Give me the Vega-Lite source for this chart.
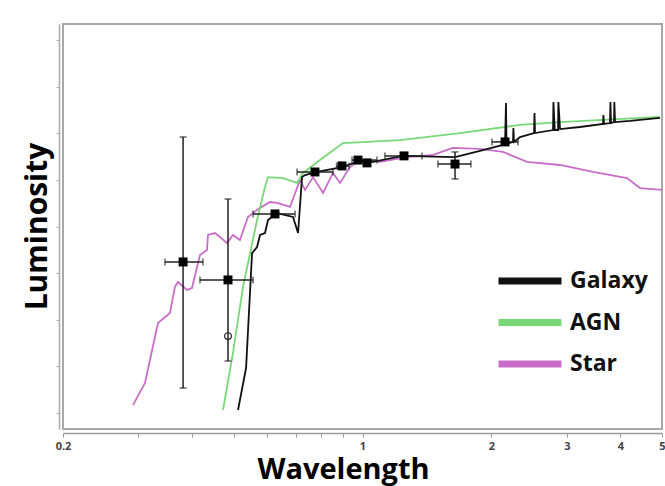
{
  "$schema": "https://vega.github.io/schema/vega-lite/v6.json",
  "autosize": {"type": "none"},
  "width": 599,
  "height": 405,
  "padding": {"left": 63, "top": 24, "right": 3, "bottom": 57},
  "background": "#ffffff",
  "config": {
    "view": {"stroke": "#a8a8a8", "strokeWidth": 2},
    "font": "Open Sans"
  },
  "datasets": {
    "lines": [
      {"s": "Star", "i": 0, "x": 0.2913, "L": 0.34},
      {"s": "Star", "i": 1, "x": 0.3107, "L": 1.29},
      {"s": "Star", "i": 2, "x": 0.3332, "L": 3.86},
      {"s": "Star", "i": 3, "x": 0.3553, "L": 4.29},
      {"s": "Star", "i": 4, "x": 0.365, "L": 5.41},
      {"s": "Star", "i": 5, "x": 0.371, "L": 5.62},
      {"s": "Star", "i": 6, "x": 0.3894, "L": 5.28},
      {"s": "Star", "i": 7, "x": 0.4, "L": 5.36},
      {"s": "Star", "i": 8, "x": 0.4175, "L": 6.78},
      {"s": "Star", "i": 9, "x": 0.4336, "L": 6.99},
      {"s": "Star", "i": 10, "x": 0.4359, "L": 7.64},
      {"s": "Star", "i": 11, "x": 0.4526, "L": 7.72},
      {"s": "Star", "i": 12, "x": 0.4649, "L": 7.55},
      {"s": "Star", "i": 13, "x": 0.4829, "L": 7.29},
      {"s": "Star", "i": 14, "x": 0.4985, "L": 7.64},
      {"s": "Star", "i": 15, "x": 0.5176, "L": 7.42},
      {"s": "Star", "i": 16, "x": 0.5403, "L": 8.41},
      {"s": "Star", "i": 17, "x": 0.5766, "L": 8.8},
      {"s": "Star", "i": 18, "x": 0.6083, "L": 9.05},
      {"s": "Star", "i": 19, "x": 0.6316, "L": 9.01},
      {"s": "Star", "i": 20, "x": 0.6774, "L": 8.84},
      {"s": "Star", "i": 21, "x": 0.7147, "L": 10.0},
      {"s": "Star", "i": 22, "x": 0.7344, "L": 9.57},
      {"s": "Star", "i": 23, "x": 0.7666, "L": 10.12},
      {"s": "Star", "i": 24, "x": 0.8089, "L": 9.44},
      {"s": "Star", "i": 25, "x": 0.8534, "L": 10.3},
      {"s": "Star", "i": 26, "x": 0.8862, "L": 9.87},
      {"s": "Star", "i": 27, "x": 0.9351, "L": 10.55},
      {"s": "Star", "i": 28, "x": 0.9867, "L": 10.85},
      {"s": "Star", "i": 29, "x": 1.099, "L": 10.77},
      {"s": "Star", "i": 30, "x": 1.27, "L": 10.98},
      {"s": "Star", "i": 31, "x": 1.461, "L": 11.07},
      {"s": "Star", "i": 32, "x": 1.626, "L": 11.37},
      {"s": "Star", "i": 33, "x": 1.88, "L": 11.33},
      {"s": "Star", "i": 34, "x": 2.128, "L": 11.2},
      {"s": "Star", "i": 35, "x": 2.421, "L": 10.77},
      {"s": "Star", "i": 36, "x": 2.891, "L": 10.64},
      {"s": "Star", "i": 37, "x": 3.451, "L": 10.34},
      {"s": "Star", "i": 38, "x": 4.143, "L": 10.08},
      {"s": "Star", "i": 39, "x": 4.444, "L": 9.65},
      {"s": "Star", "i": 40, "x": 5.0, "L": 9.57},
      {"s": "AGN", "i": 0, "x": 0.4726, "L": 0.13},
      {"s": "AGN", "i": 1, "x": 0.4985, "L": 2.57},
      {"s": "AGN", "i": 2, "x": 0.5262, "L": 5.41},
      {"s": "AGN", "i": 3, "x": 0.5674, "L": 8.28},
      {"s": "AGN", "i": 4, "x": 0.5922, "L": 9.7},
      {"s": "AGN", "i": 5, "x": 0.6018, "L": 10.12},
      {"s": "AGN", "i": 6, "x": 0.6524, "L": 10.08},
      {"s": "AGN", "i": 7, "x": 0.7036, "L": 9.87},
      {"s": "AGN", "i": 8, "x": 0.7263, "L": 10.3},
      {"s": "AGN", "i": 9, "x": 0.7957, "L": 10.85},
      {"s": "AGN", "i": 10, "x": 0.9004, "L": 11.58},
      {"s": "AGN", "i": 11, "x": 1.223, "L": 11.71},
      {"s": "AGN", "i": 12, "x": 1.689, "L": 12.01},
      {"s": "AGN", "i": 13, "x": 2.331, "L": 12.36},
      {"s": "AGN", "i": 14, "x": 2.891, "L": 12.48},
      {"s": "AGN", "i": 15, "x": 4.945, "L": 12.7},
      {"s": "Galaxy", "i": 0, "x": 0.5123, "L": 0.13},
      {"s": "Galaxy", "i": 1, "x": 0.5349, "L": 1.93},
      {"s": "Galaxy", "i": 2, "x": 0.5524, "L": 6.86},
      {"s": "Galaxy", "i": 3, "x": 0.5674, "L": 7.12},
      {"s": "Galaxy", "i": 4, "x": 0.5766, "L": 7.64},
      {"s": "Galaxy", "i": 5, "x": 0.5922, "L": 7.72},
      {"s": "Galaxy", "i": 6, "x": 0.6018, "L": 8.28},
      {"s": "Galaxy", "i": 7, "x": 0.6316, "L": 8.58},
      {"s": "Galaxy", "i": 8, "x": 0.6884, "L": 8.41},
      {"s": "Galaxy", "i": 9, "x": 0.7073, "L": 7.72},
      {"s": "Galaxy", "i": 10, "x": 0.7226, "L": 10.12},
      {"s": "Galaxy", "i": 11, "x": 0.7344, "L": 10.21},
      {"s": "Galaxy", "i": 12, "x": 0.783, "L": 10.34},
      {"s": "Galaxy", "i": 13, "x": 0.8958, "L": 10.55},
      {"s": "Galaxy", "i": 14, "x": 0.9867, "L": 10.81},
      {"s": "Galaxy", "i": 15, "x": 1.03, "L": 10.73},
      {"s": "Galaxy", "i": 16, "x": 1.243, "L": 11.03},
      {"s": "Galaxy", "i": 17, "x": 1.644, "L": 10.98},
      {"s": "Galaxy", "i": 18, "x": 1.88, "L": 11.24},
      {"s": "Galaxy", "i": 19, "x": 2.128, "L": 11.5},
      {"s": "Galaxy", "i": 20, "x": 2.151, "L": 11.54},
      {"s": "Galaxy", "i": 21, "x": 2.162, "L": 13.3},
      {"s": "Galaxy", "i": 22, "x": 2.168, "L": 11.54},
      {"s": "Galaxy", "i": 23, "x": 2.245, "L": 11.63},
      {"s": "Galaxy", "i": 24, "x": 2.25, "L": 12.23},
      {"s": "Galaxy", "i": 25, "x": 2.257, "L": 11.63},
      {"s": "Galaxy", "i": 26, "x": 2.331, "L": 11.84},
      {"s": "Galaxy", "i": 27, "x": 2.514, "L": 12.01},
      {"s": "Galaxy", "i": 28, "x": 2.52, "L": 12.87},
      {"s": "Galaxy", "i": 29, "x": 2.527, "L": 12.01},
      {"s": "Galaxy", "i": 30, "x": 2.784, "L": 12.14},
      {"s": "Galaxy", "i": 31, "x": 2.79, "L": 13.34},
      {"s": "Galaxy", "i": 32, "x": 2.81, "L": 12.14},
      {"s": "Galaxy", "i": 33, "x": 2.86, "L": 12.14},
      {"s": "Galaxy", "i": 34, "x": 2.865, "L": 13.34},
      {"s": "Galaxy", "i": 35, "x": 2.891, "L": 12.18},
      {"s": "Galaxy", "i": 36, "x": 3.218, "L": 12.27},
      {"s": "Galaxy", "i": 37, "x": 3.641, "L": 12.4},
      {"s": "Galaxy", "i": 38, "x": 3.65, "L": 12.78},
      {"s": "Galaxy", "i": 39, "x": 3.661, "L": 12.4},
      {"s": "Galaxy", "i": 40, "x": 3.781, "L": 12.44},
      {"s": "Galaxy", "i": 41, "x": 3.79, "L": 13.34},
      {"s": "Galaxy", "i": 42, "x": 3.802, "L": 12.44},
      {"s": "Galaxy", "i": 43, "x": 3.864, "L": 12.48},
      {"s": "Galaxy", "i": 44, "x": 3.87, "L": 13.34},
      {"s": "Galaxy", "i": 45, "x": 3.885, "L": 12.48},
      {"s": "Galaxy", "i": 46, "x": 4.21, "L": 12.53},
      {"s": "Galaxy", "i": 47, "x": 4.945, "L": 12.66}
    ],
    "points": [
      {"x": 0.3813, "L": 6.48, "xlo": 0.3459, "xhi": 0.4243, "ylo": 1.07, "yhi": 11.84},
      {"x": 0.4854, "L": 5.71, "xlo": 0.4175, "xhi": 0.5554, "ylo": 2.23, "yhi": 9.18},
      {"x": 0.6248, "L": 8.54, "xlo": 0.5554, "xhi": 0.696},
      {"x": 0.7746, "L": 10.34, "xlo": 0.7036, "xhi": 0.8534},
      {"x": 0.8958, "L": 10.6, "xlo": 0.87, "xhi": 0.93},
      {"x": 0.9761, "L": 10.85, "xlo": 0.9452, "xhi": 1.081},
      {"x": 1.0245, "L": 10.73},
      {"x": 1.25, "L": 11.03, "xlo": 1.128, "xhi": 1.377},
      {"x": 1.644, "L": 10.68, "xlo": 1.5, "xhi": 1.791, "ylo": 10.04, "yhi": 11.2},
      {"x": 2.151, "L": 11.63, "xlo": 2.005, "xhi": 2.307}
    ],
    "open": [
      {"x": 0.4854, "L": 3.3}
    ]
  },
  "layer": [
    {
      "data": {"name": "lines"},
      "mark": {"type": "line", "strokeWidth": 1.8},
      "encoding": {
        "x": {
          "field": "x", "type": "quantitative", "title": "Wavelength",
          "scale": {"type": "log", "domain": [0.2, 5], "nice": false},
          "axis": {
            "title": "Wavelength",
            "values": [0.2, 0.3, 0.4, 0.5, 0.6, 0.7, 0.8, 0.9, 1, 2, 3, 4, 5],
            "format": "~g",
            "labelExpr": "indexof([0.2, 1, 2, 3, 4, 5], datum.value) >= 0 ? datum.label : ''",
            "labelOverlap": false,
            "labelFlush": false,
            "offset": 4,
            "grid": false,
            "domainColor": "#9a9a9a",
            "domainWidth": 1.5,
            "tickColor": "#9a9a9a",
            "tickSize": 4,
            "labelColor": "#444444",
            "labelFontSize": 11,
            "labelFontWeight": "bold",
            "labelPadding": 3,
            "titleFont": "Open Sans",
            "titleFontSize": 29,
            "titleFontWeight": "bold",
            "titleColor": "#000000",
            "titleX": 280,
            "titleY": 45,
            "titleAlign": "center",
            "titleBaseline": "alphabetic"
          }
        },
        "y": {
          "field": "L", "type": "quantitative", "title": "Luminosity",
          "scale": {"domain": [-0.686, 16.688], "nice": false, "zero": false},
          "axis": {
            "title": "Luminosity",
            "values": [0, 1, 2, 3, 4, 5, 6, 7, 8, 9, 10, 11, 12, 13, 14, 15, 16],
            "labels": false,
            "offset": 4,
            "grid": false,
            "domainColor": "#a8a8a8",
            "domainWidth": 1.5,
            "tickColor": "#a8a8a8",
            "tickSize": 3,
            "titleFont": "Open Sans",
            "titleFontSize": 30,
            "titleFontWeight": "bold",
            "titleColor": "#000000",
            "titleX": -13,
            "titleY": 202,
            "titleAngle": -90,
            "titleAlign": "center",
            "titleBaseline": "alphabetic"
          }
        },
        "color": {
          "field": "s", "type": "nominal",
          "scale": {"domain": ["Galaxy", "AGN", "Star"], "range": ["#111111", "#78d878", "#c86ec8"]},
          "legend": {
            "title": null,
            "orient": "none",
            "legendX": 453,
            "legendY": 243,
            "symbolType": "M-3,0H3",
            "symbolSize": 441,
            "symbolStrokeWidth": 7,
            "labelOffset": 26,
            "labelFont": "Open Sans",
            "labelFontSize": 23,
            "labelFontWeight": "bold",
            "labelColor": "#111111",
            "rowPadding": 13.5
          }
        },
        "order": {"field": "i", "type": "quantitative"}
      }
    },
    {
      "data": {"name": "points"},
      "transform": [{"filter": "isValid(datum.xlo)"}],
      "mark": {"type": "errorbar", "ticks": {"size": 7, "thickness": 1.5}, "thickness": 1.5, "color": "#222222"},
      "encoding": {
        "x": {"field": "xlo", "type": "quantitative", "title": "Wavelength"},
        "x2": {"field": "xhi", "title": "Wavelength"},
        "y": {"field": "L", "type": "quantitative", "title": "Luminosity"}
      }
    },
    {
      "data": {"name": "points"},
      "transform": [{"filter": "isValid(datum.ylo)"}],
      "mark": {"type": "errorbar", "ticks": {"size": 7, "thickness": 1.5}, "thickness": 1.5, "color": "#222222"},
      "encoding": {
        "y": {"field": "ylo", "type": "quantitative", "title": "Luminosity"},
        "y2": {"field": "yhi", "title": "Luminosity"},
        "x": {"field": "x", "type": "quantitative", "title": "Wavelength"}
      }
    },
    {
      "data": {"name": "points"},
      "mark": {"type": "point", "shape": "square", "filled": true, "size": 80, "color": "#000000", "opacity": 1},
      "encoding": {
        "x": {"field": "x", "type": "quantitative", "title": "Wavelength"},
        "y": {"field": "L", "type": "quantitative", "title": "Luminosity"}
      }
    },
    {
      "data": {"name": "open"},
      "mark": {"type": "point", "shape": "circle", "filled": false, "size": 45, "color": "#222222", "strokeWidth": 1.2, "opacity": 1},
      "encoding": {
        "x": {"field": "x", "type": "quantitative", "title": "Wavelength"},
        "y": {"field": "L", "type": "quantitative", "title": "Luminosity"}
      }
    }
  ]
}
